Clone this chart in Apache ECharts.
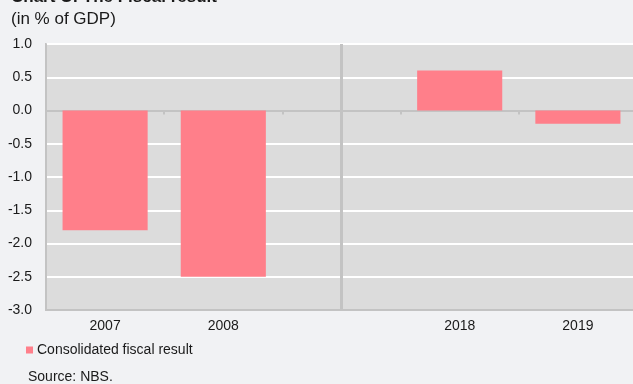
<!DOCTYPE html>
<html>
<head>
<meta charset="utf-8">
<script src="https://cdn.jsdelivr.net/npm/echarts@6/dist/echarts.min.js"></script>
<style>
  html, body { margin: 0; padding: 0; background: #f1f2f4; overflow: hidden; }
  #chart { width: 640px; height: 384px; }
</style>
</head>
<body>
<div id="chart"></div>
<script>
// Consolidated fiscal result, in % of GDP
const categories = ['2007', '2008', '', '2018', '2019'];
const fiscalResult = [-1.8, -2.5, null, 0.6, -0.2];
const yTicks = { min: -3, max: 1, step: 0.5 };
const seriesName = 'Consolidated fiscal result';
const gapCategory = 2; // index of the empty slot carrying the period divider

const font = 'Arial, "Liberation Sans", Helvetica, sans-serif';
const ink = '#1a1a1a';
const chart = echarts.init(document.getElementById('chart'), null, { renderer: 'canvas' });

chart.setOption({
  backgroundColor: '#f1f2f4',
  animation: false,
  textStyle: { fontFamily: font, color: ink },
  title: [
    {
      text: '{n|Chart C: The }{b|Fiscal result}',
      left: 11, top: -11, padding: 0,
      textStyle: {
        rich: {
          n: { fontFamily: font, fontSize: 17, color: ink },
          b: { fontFamily: font, fontSize: 17, fontWeight: 'bold', color: ink }
        }
      }
    },
    {
      text: '(in % of GDP)',
      left: 11, top: 11, padding: 0,
      textStyle: { fontFamily: font, fontSize: 17, fontWeight: 'normal', color: ink }
    },
    {
      text: 'Source: NBS.',
      left: 28, top: 370, padding: 0,
      textStyle: { fontFamily: font, fontSize: 14, fontWeight: 'normal', color: ink }
    }
  ],
  legend: {
    left: 26, top: 343, padding: 0,
    itemWidth: 7, itemHeight: 7,
    icon: 'rect',
    data: [seriesName],
    textStyle: { fontFamily: font, fontSize: 14, color: ink, padding: [0, 0, 0, -1] }
  },
  grid: {
    left: 46, right: 3, top: 44, bottom: 74,
    show: true,
    backgroundColor: '#dcdcdc',
    borderColor: '#c3c3c3',
    borderWidth: 2
  },
  xAxis: [
    {
      type: 'category',
      data: categories,
      axisLine: { onZero: false, lineStyle: { color: '#c3c3c3', width: 2 } },
      axisTick: { show: false },
      axisLabel: { fontFamily: font, fontSize: 14, color: ink, margin: 9 },
      splitLine: { show: false }
    },
    {
      type: 'category',
      data: categories,
      position: 'bottom',
      axisLine: { onZero: true, onZeroAxisIndex: 0, lineStyle: { color: '#c3c3c3', width: 2 } },
      axisTick: { show: true, length: 4, lineStyle: { color: '#c3c3c3', width: 2 } },
      axisLabel: { show: false },
      splitLine: { show: false }
    }
  ],
  yAxis: {
    type: 'value',
    min: yTicks.min, max: yTicks.max, interval: yTicks.step,
    axisLine: { show: true, lineStyle: { color: '#c3c3c3', width: 2 } },
    axisTick: { show: false },
    axisLabel: {
      fontFamily: font, fontSize: 14, color: ink, margin: 14,
      formatter: v => v.toFixed(1)
    },
    splitLine: { show: true, lineStyle: { color: '#ffffff', width: 2 } }
  },
  series: [
    {
      name: seriesName,
      type: 'bar',
      xAxisIndex: 0,
      data: fiscalResult,
      barWidth: '72%',
      itemStyle: { color: '#ff7f8a' },
      markLine: {
        silent: true,
        symbol: 'none',
        label: { show: false },
        lineStyle: { color: '#c3c3c3', width: 3, type: 'solid' },
        data: [{ xAxis: gapCategory }]
      }
    }
  ]
});
</script>
</body>
</html>
